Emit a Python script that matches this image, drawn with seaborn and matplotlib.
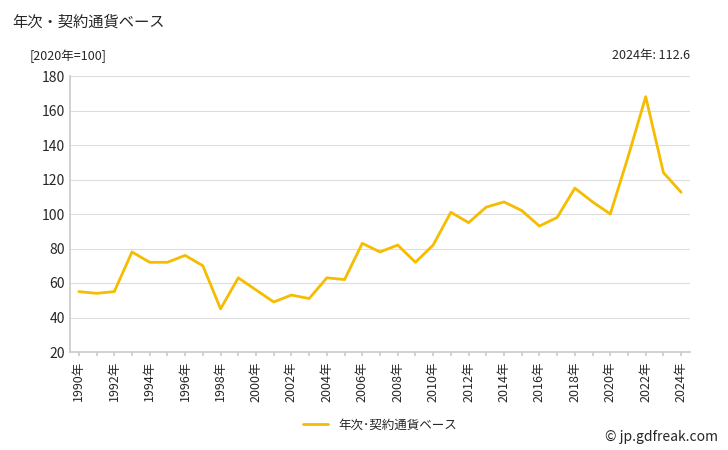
import matplotlib
matplotlib.use("Agg")
import matplotlib.pyplot as plt
import seaborn as sns
import pandas as pd

years = list(range(1990, 2025))
values = [55, 54, 55, 78, 72, 72, 76, 70, 45, 63, 56, 49, 53, 51, 63, 62, 83, 78, 82, 72,
          82, 101, 95, 104, 107, 102, 93, 98, 115, 107, 100, 133, 168, 124, 112.6]
series_name = "年次･契約通貨ベース"

sns.set_theme(style="white")
plt.rcParams['font.family'] = ['Noto Sans CJK JP', 'DejaVu Sans']

df = pd.DataFrame({"year": years, "value": values})
fig = plt.figure(figsize=(7.28, 4.5), dpi=100)
ax = fig.add_axes([70/728, 1-352/450, 620/728, 276/450])
sns.lineplot(data=df, x="year", y="value", ax=ax, color="#f5bc00", linewidth=2, label=series_name)
ax.set_xlim(1989.5, 2024.5)
ax.set_ylim(20, 180)
ax.set_yticks(range(20, 181, 20))
ax.set_xticks(years)
ax.set_xticklabels([f"{y}年" if y % 2 == 0 else "" for y in years], rotation=90, fontsize=9)
ax.tick_params(axis='y', labelsize=10, length=0)
ax.tick_params(axis='x', length=3, bottom=True, color="#ccc")
ax.grid(axis='y', color="#dddddd", linewidth=0.8)
for s in ["top", "right"]:
    ax.spines[s].set_visible(False)
ax.spines["left"].set_color("#ccc")
ax.spines["bottom"].set_color("#ccc")
ax.set_xlabel("")
ax.set_ylabel("")
ax.legend(loc="upper center", bbox_to_anchor=(0.5, -0.2), frameon=False, fontsize=9)
fig.text(12/728, 1-22/450, "年次・契約通貨ベース", fontsize=11, va="center")
fig.text(30/728, 1-56/450, "[2020年=100]", fontsize=9, va="center")
fig.text(690/728, 1-56/450, "2024年: 112.6", fontsize=9, va="center", ha="right")
fig.text(718/728, 1-437/450, "© jp.gdfreak.com", fontsize=10, va="center", ha="right")
fig.savefig("out.png", dpi=100)
